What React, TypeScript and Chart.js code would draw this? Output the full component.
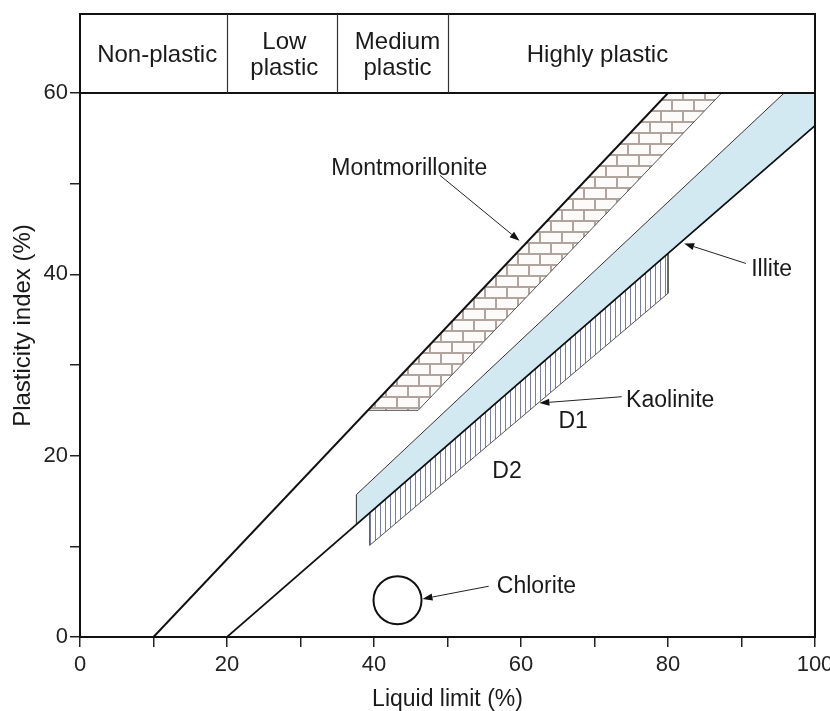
import React, { useEffect, useRef } from "react";
import { Chart, registerables } from "chart.js";

Chart.register(...registerables);

// ---------- axes ----------
const X_MIN = 0;
const X_MAX = 100;
const X_STEP = 10;
const X_LABEL_EVERY = 20;
const Y_MIN = 0;
const Y_MAX = 60;
const Y_STEP = 10;
const Y_LABEL_EVERY = 20;
const xTitle = "Liquid limit (%)";
const yTitle = "Plasticity index (%)";

// ---------- plasticity classes (top band) ----------
const classBounds = [20, 35, 50];
const classCenters = [10.5, 27.8, 43.2, 70.4];
const classLabels = [["Non-plastic"], ["Low", "plastic"], ["Medium", "plastic"], ["Highly plastic"]];

// ---------- boundary lines ----------
const upperLineX = [10, 80];
const upperLineY = [0, 60];
const lowerLineX = [20, 100];
const lowerLineY = [0, 56.4];

// ---------- mineral zones ----------
const montX = [39.2, 46.0, 87.3, 80, 39.2];
const montY = [25, 25, 60, 60, 25];
const illiteX = [37.6, 37.6, 95.8, 100, 100, 37.6];
const illiteY = [12.4, 15.7, 60, 60, 56.4, 12.4];
const kaolX = [39.4, 80, 80, 39.4, 39.4];
const kaolY = [13.7, 42.3, 37.9, 10.1, 13.7];
const chloriteX = [43.2];
const chloriteY = [4.05];

// ---------- annotations ----------
const noteText = ["Montmorillonite", "Illite", "Kaolinite", "D1", "D2", "Chlorite"];
const noteX = [44.8, 94.1, 80.3, 67.1, 58.1, 62.1];
const noteY = [51.7, 40.5, 26.1, 23.7, 18.2, 5.5];
const arrowFromX = [49.0, 90.6, 73.7, 55.6];
const arrowFromY = [50.9, 41.2, 26.5, 5.6];
const arrowToX = [59.8, 82.2, 62.5, 46.6];
const arrowToY = [43.7, 43.4, 25.8, 4.2];

const FONT = "'Liberation Sans', Arial, Helvetica, sans-serif";

const pts = (xs: number[], ys: number[]) => xs.map((x, i) => ({ x, y: ys[i] }));

function brickPattern(ctx: CanvasRenderingContext2D) {
  const c = document.createElement("canvas");
  c.width = 22;
  c.height = 22;
  const g = c.getContext("2d")!;
  g.fillStyle = "#fcfbfa";
  g.fillRect(0, 0, 22, 22);
  g.strokeStyle = "#b0a49e";
  g.lineWidth = 2;
  g.beginPath();
  g.moveTo(0, 1);
  g.lineTo(22, 1);
  g.moveTo(0, 12);
  g.lineTo(22, 12);
  g.moveTo(1, 0);
  g.lineTo(1, 12);
  g.moveTo(12, 12);
  g.lineTo(12, 22);
  g.stroke();
  return ctx.createPattern(c, "repeat")!;
}

function hatchPattern(ctx: CanvasRenderingContext2D) {
  const c = document.createElement("canvas");
  c.width = 5;
  c.height = 4;
  const g = c.getContext("2d")!;
  g.fillStyle = "#ffffff";
  g.fillRect(0, 0, 5, 4);
  g.fillStyle = "#7b7f9e";
  g.fillRect(0, 0, 1, 4);
  return ctx.createPattern(c, "repeat")!;
}

const overlay = {
  id: "overlay",
  afterDraw(chart: any) {
    const { ctx, chartArea: a, scales } = chart;
    const x = scales.x;
    const y = scales.y;
    const boxTop = 14;
    ctx.save();
    // frame
    ctx.strokeStyle = "#111";
    ctx.lineWidth = 2;
    ctx.strokeRect(a.left, a.top, a.right - a.left, a.bottom - a.top);
    ctx.beginPath();
    ctx.moveTo(a.left, a.top);
    ctx.lineTo(a.left, boxTop);
    ctx.lineTo(a.right, boxTop);
    ctx.lineTo(a.right, a.top);
    ctx.stroke();
    // class dividers
    ctx.strokeStyle = "#333";
    ctx.lineWidth = 1.2;
    classBounds.forEach((b) => {
      const px = Math.round(x.getPixelForValue(b)) + 0.5;
      ctx.beginPath();
      ctx.moveTo(px, boxTop);
      ctx.lineTo(px, a.top);
      ctx.stroke();
    });
    // class labels
    ctx.fillStyle = "#1a1a1a";
    ctx.font = `24px ${FONT}`;
    ctx.textAlign = "center";
    ctx.textBaseline = "middle";
    const mid = (boxTop + a.top) / 2 + 2;
    classLabels.forEach((lines, i) => {
      const cx = x.getPixelForValue(classCenters[i]);
      lines.forEach((t, j) => {
        ctx.fillText(t, cx, mid + (j - (lines.length - 1) / 2) * 26);
      });
    });
    // annotation texts
    ctx.font = `23px ${FONT}`;
    noteText.forEach((t, i) => {
      ctx.fillText(t, x.getPixelForValue(noteX[i]), y.getPixelForValue(noteY[i]));
    });
    // arrows
    ctx.strokeStyle = "#222";
    ctx.fillStyle = "#111";
    ctx.lineWidth = 1;
    arrowFromX.forEach((fx, i) => {
      const x1 = x.getPixelForValue(fx);
      const y1 = y.getPixelForValue(arrowFromY[i]);
      const x2 = x.getPixelForValue(arrowToX[i]);
      const y2 = y.getPixelForValue(arrowToY[i]);
      const ang = Math.atan2(y2 - y1, x2 - x1);
      const len = 10;
      const hw = 3.5;
      const bx = x2 - len * Math.cos(ang);
      const by = y2 - len * Math.sin(ang);
      ctx.beginPath();
      ctx.moveTo(x1, y1);
      ctx.lineTo(bx, by);
      ctx.stroke();
      ctx.beginPath();
      ctx.moveTo(x2, y2);
      ctx.lineTo(bx + hw * Math.sin(ang), by - hw * Math.cos(ang));
      ctx.lineTo(bx - hw * Math.sin(ang), by + hw * Math.cos(ang));
      ctx.closePath();
      ctx.fill();
    });
    // y title
    ctx.fillStyle = "#1a1a1a";
    ctx.font = `24px ${FONT}`;
    ctx.translate(23, (boxTop + a.bottom) / 2);
    ctx.rotate(-Math.PI / 2);
    ctx.fillText(yTitle, 0, 0);
    ctx.restore();
  },
};

export default function App() {
  const ref = useRef<HTMLCanvasElement>(null);
  useEffect(() => {
    const canvas = ref.current!;
    const ctx = canvas.getContext("2d")!;
    const brick = brickPattern(ctx);
    const hatch = hatchPattern(ctx);
    const chart = new Chart(ctx, {
      type: "scatter",
      data: {
        datasets: [
          {
            label: "Chlorite",
            data: pts(chloriteX, chloriteY),
            showLine: false,
            pointRadius: 24,
            pointBorderWidth: 2,
            pointBorderColor: "#111",
            pointBackgroundColor: "rgba(0,0,0,0)",
            order: 0,
          },
          {
            label: "Upper line",
            data: pts(upperLineX, upperLineY),
            showLine: true,
            borderColor: "#111",
            borderWidth: 2,
            pointRadius: 0,
            fill: false,
            order: 1,
          },
          {
            label: "Lower line",
            data: pts(lowerLineX, lowerLineY),
            showLine: true,
            borderColor: "#111",
            borderWidth: 1.7,
            pointRadius: 0,
            fill: false,
            order: 2,
          },
          {
            label: "Montmorillonite",
            data: pts(montX, montY),
            showLine: true,
            fill: "shape",
            backgroundColor: brick,
            borderColor: "#555",
            borderWidth: 1,
            pointRadius: 0,
            order: 5,
          },
          {
            label: "Illite",
            data: pts(illiteX, illiteY),
            showLine: true,
            fill: "shape",
            backgroundColor: "#d3e9f1",
            borderColor: "#333",
            borderWidth: 1,
            pointRadius: 0,
            order: 6,
          },
          {
            label: "Kaolinite",
            data: pts(kaolX, kaolY),
            showLine: true,
            fill: "shape",
            backgroundColor: hatch,
            borderColor: "#555",
            borderWidth: 1,
            pointRadius: 0,
            order: 7,
          },
        ],
      } as any,
      options: {
        responsive: false,
        animation: false,
        events: [],
        layout: { autoPadding: false, padding: { top: 93, right: 15, left: 0, bottom: 0 } },
        plugins: { legend: { display: false }, tooltip: { enabled: false } },
        scales: {
          x: {
            type: "linear",
            min: X_MIN,
            max: X_MAX,
            afterFit: (s: any) => {
              s.height = 74;
              s.paddingLeft = 0;
              s.paddingRight = 0;
            },
            ticks: {
              stepSize: X_STEP,
              autoSkip: false,
              maxRotation: 0,
              padding: 5,
              color: "#222",
              font: { family: FONT, size: 22 },
              callback: (v: any) => (Number(v) % X_LABEL_EVERY === 0 ? String(v) : ""),
            },
            grid: { drawOnChartArea: false, drawTicks: true, tickLength: 10, color: "#222", lineWidth: 1.5 },
            border: { display: true, color: "#111", width: 2 },
            title: {
              display: true,
              text: xTitle,
              color: "#1a1a1a",
              font: { family: FONT, size: 23, lineHeight: 1 },
              padding: { top: 0, bottom: 0 },
            },
          },
          y: {
            type: "linear",
            min: Y_MIN,
            max: Y_MAX,
            afterFit: (s: any) => {
              s.width = 80;
              s.paddingTop = 0;
              s.paddingBottom = 0;
            },
            ticks: {
              stepSize: Y_STEP,
              autoSkip: false,
              padding: 2,
              color: "#222",
              font: { family: FONT, size: 22 },
              callback: (v: any) => (Number(v) % Y_LABEL_EVERY === 0 ? String(v) : ""),
            },
            grid: { drawOnChartArea: false, drawTicks: true, tickLength: 10, color: "#222", lineWidth: 1.5 },
            border: { display: true, color: "#111", width: 2 },
            title: { display: false },
          },
        },
      } as any,
      plugins: [overlay],
    });
    return () => chart.destroy();
  }, []);
  return (
    <div style={{ position: "fixed", left: 0, top: 0, width: 830, height: 711, background: "#fff" }}>
      <canvas ref={ref} width={830} height={711} style={{ width: 830, height: 711, display: "block" }} />
    </div>
  );
}
